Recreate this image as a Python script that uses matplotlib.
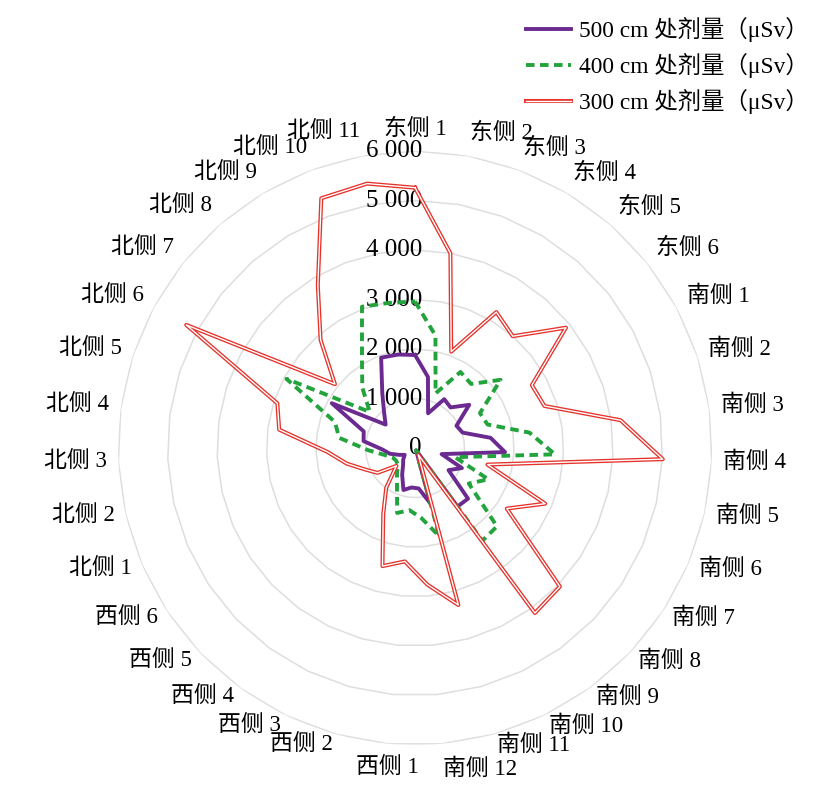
import numpy as np
import matplotlib.pyplot as plt
import matplotlib.transforms as mtransforms
from matplotlib import patheffects as pe

plt.rcParams['font.family'] = ['Liberation Serif', 'Noto Sans CJK SC']

# Categories (clockwise from top)
east = ['东侧 %d' % i for i in range(1, 7)]
south = ['南侧 %d' % i for i in range(1, 13)]
west = ['西侧 %d' % i for i in range(1, 7)]
north = ['北侧 %d' % i for i in range(1, 12)]
categories = east + south + west + north

# Dose values (uSv)
dose_500 = [1880, 1460, 750, 1150, 1090, 1400, 950, 1010, 1540, 1820,
            550, 1030, 810, 1480, 1460, 50, 1160, 820, 800, 880,
            600, 410, 330, 250, 350, 520, 660, 1050, 1090, 1910,
            760, 950, 1290, 1950, 1920]
dose_400 = [2960, 2310, 1180, 1790, 1720, 2210, 1490, 1540, 2330, 2830,
            830, 1610, 1300, 2290, 2315, 50, 1850, 1420, 1260, 1360,
            840, 620, 480, 460, 490, 630, 950, 1550, 1700, 2950,
            1170, 1620, 2090, 3050, 2980]
dose_300 = [5260, 4000, 2080, 3200, 3000, 3900, 2680, 2750, 4190, 5010,
            1500, 2860, 2220, 4050, 4120, 150, 3290, 2770, 2300, 2475,
            1480, 990, 520, 910, 1100, 1415, 1770, 2770, 2925, 5250,
            2070, 2900, 3830, 5390, 5430]
rings = [1000, 2000, 3000, 4000, 5000, 6000]
ring_labels = ['0', '1 000', '2 000', '3 000', '4 000', '5 000', '6 000']

n = len(categories)
theta = np.arange(n) * 2 * np.pi / n
theta_c = np.append(theta, theta[0])


def close(v):
    return list(v) + [v[0]]


fig = plt.figure(figsize=(8.33, 7.93), dpi=100)
ax = fig.add_axes([0.1417, 0.0605, 0.7131, 0.749], projection='polar')
ax.set_theta_zero_location('N')
ax.set_theta_direction(-1)
ax.set_ylim(0, 6000)
ax.grid(False)
ax.spines['polar'].set_visible(False)
ax.set_xticks([])
ax.set_yticks([])

# polygon grid
for r in rings:
    ax.plot(theta_c, [r] * (n + 1), color='#DEDEDE', lw=1.1, zorder=1)

# radial labels
off = mtransforms.ScaledTranslation(5 / 72, 0, fig.dpi_scale_trans)
for r, lab in zip([0] + rings, ring_labels):
    ax.text(0, r, lab, ha='right', va='center', fontsize=18,
            transform=ax.transData + off, zorder=2)

# series
ax.plot(theta_c, close(dose_500), color='#6A2A90', lw=2.8, zorder=3,
        label='500 cm 处剂量（μSv）')
ax.plot(theta_c, close(dose_400), color='#22A33C', lw=2.8, zorder=4,
        dashes=(2.2, 1.4), label='400 cm 处剂量（μSv）')
ax.plot(theta_c, close(dose_300), color='white', lw=1.0, zorder=5,
        path_effects=[pe.Stroke(linewidth=2.9, foreground='#E5322B'), pe.Normal()],
        label='300 cm 处剂量（μSv）')

# category labels
for t, lab in zip(theta, categories):
    s, c = np.sin(t), np.cos(t)
    ha = 'left' if s > 0.05 else ('right' if s < -0.1 else 'center')
    if c > 0.99:
        va, dy = 'bottom', 0
    elif c < -0.99:
        va, dy = 'top', -3
    else:
        va, dy = 'center', 12 * max(c, 0)
    tr = ax.transData + mtransforms.ScaledTranslation(0, dy / 100, fig.dpi_scale_trans)
    ax.text(t, 6230, lab, ha=ha, va=va, fontsize=16.5, transform=tr)

fig.legend(loc='upper right', bbox_to_anchor=(0.982, 0.99), frameon=False,
           fontsize=16.8, handlelength=1.9, handletextpad=0.35, labelspacing=0.47,
           borderaxespad=0)

fig.savefig('out.png', dpi=100)
